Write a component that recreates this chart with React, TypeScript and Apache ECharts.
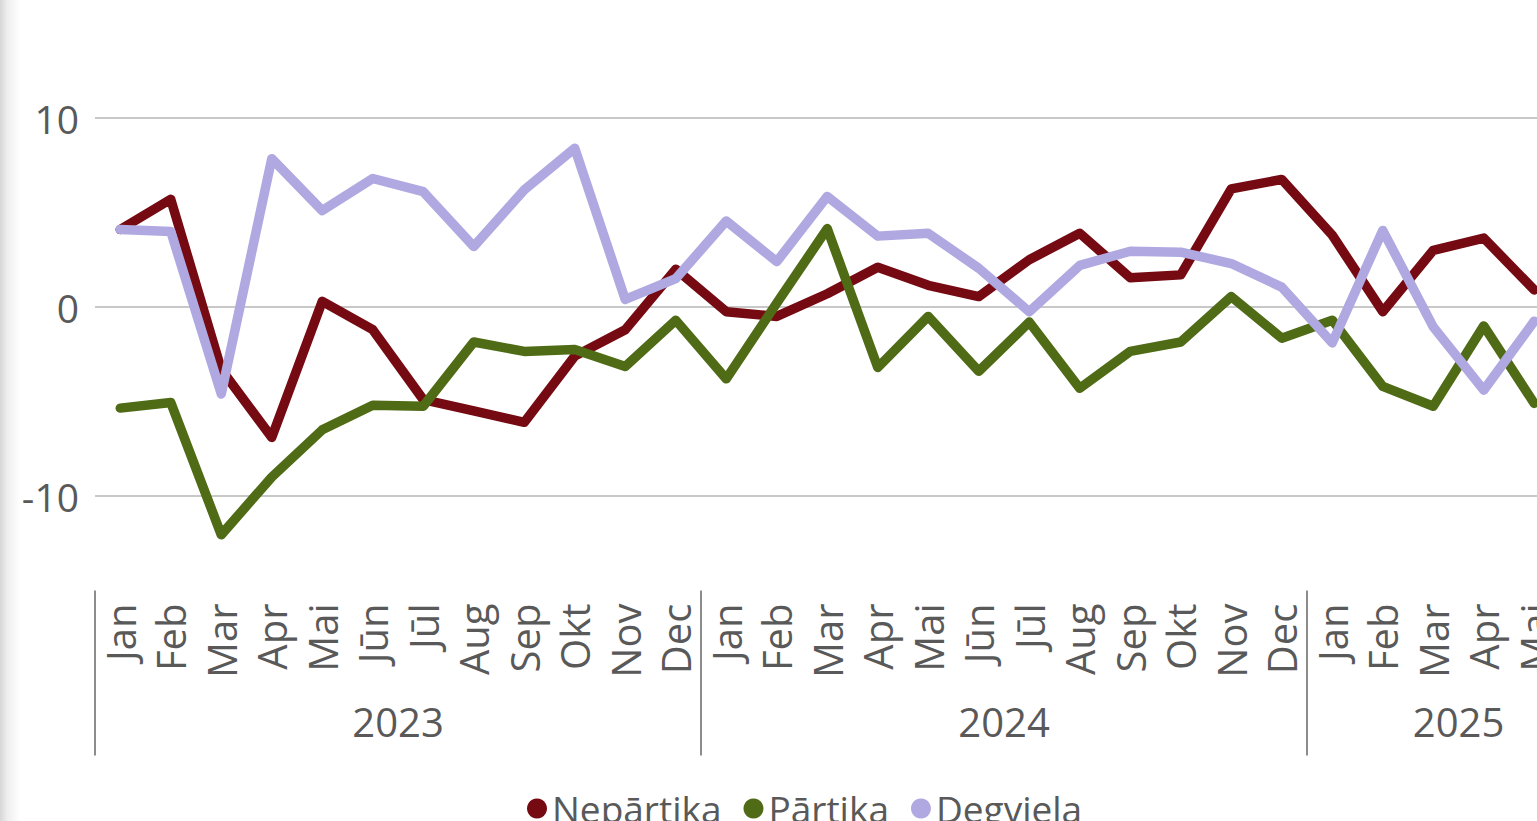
import React, { useEffect, useRef } from "react";
import * as echarts from "echarts";

const months: string[] = [
  "Jan", "Feb", "Mar", "Apr", "Mai", "Jūn", "Jūl", "Aug", "Sep", "Okt", "Nov", "Dec",
  "Jan", "Feb", "Mar", "Apr", "Mai", "Jūn", "Jūl", "Aug", "Sep", "Okt", "Nov", "Dec",
  "Jan", "Feb", "Mar", "Apr", "Mai", "Jūn",
];
const yearLabels: string[] = ["2023", "2024", "2025"];
const yearMonthCounts: number[] = [12, 12, 6];

const nepartika: (number | null)[] = [
  4.1, 5.7, -3.3, -6.9, 0.3, -1.2, -4.9, -5.5, -6.1, -2.6, -1.2, 2.0,
  -0.25, -0.5, 0.7, 2.1, 1.15, 0.55, 2.5, 3.9, 1.55, 1.7, 6.25, 6.75,
  3.8, -0.25, 3.0, 3.65, 0.9, null,
];
const partika: (number | null)[] = [
  -5.35, -5.05, -12.05, -9.0, -6.5, -5.2, -5.25, -1.85, -2.35, -2.25, -3.15, -0.7,
  -3.8, 0.2, 4.15, -3.2, -0.5, -3.4, -0.8, -4.3, -2.35, -1.85, 0.55, -1.65,
  -0.7, -4.2, -5.25, -1.0, -5.1, null,
];
const degviela: (number | null)[] = [
  4.1, 4.0, -4.6, 7.85, 5.1, 6.8, 6.1, 3.2, 6.2, 8.4, 0.4, 1.5,
  4.55, 2.4, 5.85, 3.75, 3.9, 2.05, -0.25, 2.2, 2.95, 2.9, 2.3, 1.05,
  -1.9, 4.05, -1.05, -4.4, -0.75, null,
];

const seriesNames = ["Nepārtika", "Pārtika", "Degviela"];
const seriesColors = ["#760a12", "#4f6b15", "#b0a8e0"];

const yTicks: number[] = [-10, 0, 10];

export default function App() {
  const ref = useRef<HTMLDivElement>(null);

  useEffect(() => {
    if (!ref.current) return;
    const chart = echarts.init(ref.current, null, { renderer: "svg" });
    const font = "'Open Sans', 'Noto Sans', sans-serif";
    const textColor = "#595959";

    const yearStarts: number[] = [];
    const yearCenters: number[] = [];
    let acc = 0;
    yearMonthCounts.forEach((c) => {
      yearStarts.push(acc - 0.5);
      yearCenters.push(acc + c / 2 - 0.5);
      acc += c;
    });

    const yMin = -15;
    const yMax = 15;
    const yStep = 5;
    const splitColors: string[] = [];
    for (let v = yMin; v <= yMax; v += yStep) {
      splitColors.push(yTicks.includes(v) ? "#c8c8c8" : "rgba(0,0,0,0)");
    }

    const data = [nepartika, partika, degviela];

    chart.setOption({
      animation: false,
      backgroundColor: "#ffffff",
      textStyle: { fontFamily: font },
      graphic: [
        {
          type: "rect",
          left: 0,
          top: 0,
          shape: { width: 20, height: 821 },
          style: {
            fill: new echarts.graphic.LinearGradient(0, 0, 1, 0, [
              { offset: 0, color: "rgba(0,0,0,0.16)" },
              { offset: 0.35, color: "rgba(0,0,0,0.07)" },
              { offset: 1, color: "rgba(0,0,0,0)" },
            ]),
          },
          silent: true,
        },
      ],
      grid: {
        left: 95,
        top: 23.5,
        width: months.length * 50.5,
        height: 567,
        containLabel: false,
        outerBoundsMode: "none",
      },
      legend: {
        left: 522,
        top: 785,
        icon: "circle",
        itemWidth: 20,
        itemHeight: 20,
        itemGap: 22,
        textStyle: { fontSize: 37, color: textColor, fontFamily: font },
        data: seriesNames,
      },
      xAxis: [
        {
          type: "category",
          data: months,
          position: "bottom",
          boundaryGap: true,
          axisLine: { show: false },
          axisTick: { show: false },
          splitLine: { show: false },
          axisLabel: {
            interval: 0,
            rotate: 90,
            margin: 13,
            fontSize: 40,
            color: textColor,
            fontFamily: font,
          },
        },
        {
          type: "value",
          position: "bottom",
          min: -0.5,
          max: months.length - 0.5,
          axisLine: { show: false },
          splitLine: { show: false },
          axisTick: {
            show: true,
            inside: false,
            length: 165,
            customValues: yearStarts,
            lineStyle: { color: "#8c8c8c", width: 2 },
          },
          axisLabel: {
            show: true,
            customValues: yearCenters,
            margin: 111,
            fontSize: 40,
            color: textColor,
            fontFamily: font,
            formatter: (v: number) => {
              const i = yearCenters.findIndex((c) => Math.abs(c - v) < 1e-6);
              return i >= 0 ? yearLabels[i] : "";
            },
          },
        },
      ],
      yAxis: {
        type: "value",
        min: yMin,
        max: yMax,
        interval: yStep,
        axisLine: { show: false },
        axisTick: { show: false },
        axisLabel: {
          margin: 16,
          fontSize: 39,
          color: textColor,
          fontFamily: font,
          formatter: (v: number) => (yTicks.includes(v) ? String(v) : ""),
        },
        splitLine: {
          show: true,
          showMinLine: true,
          showMaxLine: true,
          lineStyle: { color: splitColors, width: 2 },
        },
      },
      series: seriesNames.map((name, i) => ({
        name,
        type: "line",
        xAxisIndex: 0,
        yAxisIndex: 0,
        data: data[i],
        symbol: "none",
        showSymbol: false,
        connectNulls: false,
        lineStyle: { color: seriesColors[i], width: 9.5, cap: "round", join: "round" },
        itemStyle: { color: seriesColors[i] },
        emphasis: { disabled: true },
      })),
    });

    return () => chart.dispose();
  }, []);

  return (
    <div
      ref={ref}
      style={{ position: "fixed", left: 0, top: 0, width: "1537px", height: "821px" }}
    />
  );
}
